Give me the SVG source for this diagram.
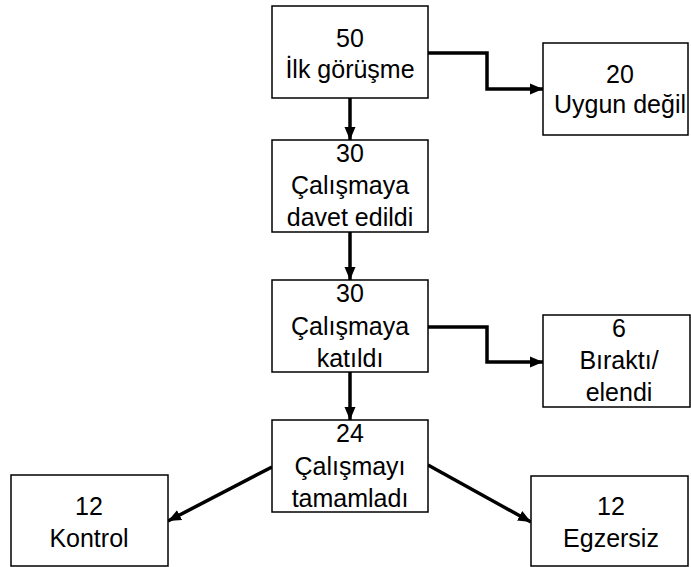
<svg xmlns="http://www.w3.org/2000/svg" width="691" height="567" viewBox="0 0 691 567">
<style>
.box{fill:#fff;stroke:#000;stroke-width:1.5}
.t{font-family:"Liberation Sans",Arial,sans-serif;font-size:25px;fill:#000;text-anchor:middle}
.c{fill:none;stroke:#000;stroke-width:3.5;stroke-linejoin:miter}
</style>
<defs>
<marker id="ah" markerUnits="userSpaceOnUse" markerWidth="14" markerHeight="14" viewBox="0 0 14 14" refX="13" refY="7" orient="auto">
<path d="M0,1.5 L13,7 L0,12.5 Z" fill="#000"/>
</marker>
</defs>
<rect width="691" height="567" fill="#fff"/>
<g id="connectors">
<path class="c" d="M350,98 V140" marker-end="url(#ah)"/>
<path class="c" d="M350,232 V280" marker-end="url(#ah)"/>
<path class="c" d="M350,372 V420" marker-end="url(#ah)"/>
<path class="c" d="M428,53 H487 V89 H543" marker-end="url(#ah)"/>
<path class="c" d="M428,327 H487 V362 H543" marker-end="url(#ah)"/>
<path class="c" d="M272,467 L168,521" marker-end="url(#ah)"/>
<path class="c" d="M428,465 L531,522" marker-end="url(#ah)"/>
</g>
<g id="n1">
<rect class="box" x="272" y="6" width="156" height="92"/>
<text class="t" x="350" y="47">50</text>
<text class="t" x="350" y="78">İlk görüşme</text>
</g>
<g id="n2">
<rect class="box" x="272" y="140" width="156" height="92"/>
<text class="t" x="350" y="162">30</text>
<text class="t" x="350" y="194">Çalışmaya</text>
<text class="t" x="350" y="226">davet edildi</text>
</g>
<g id="n3">
<rect class="box" x="272" y="280" width="156" height="92"/>
<text class="t" x="350" y="302">30</text>
<text class="t" x="350" y="335">Çalışmaya</text>
<text class="t" x="350" y="367">katıldı</text>
</g>
<g id="n4">
<rect class="box" x="272" y="420" width="156" height="92"/>
<text class="t" x="350" y="442">24</text>
<text class="t" x="350" y="475">Çalışmayı</text>
<text class="t" x="350" y="507">tamamladı</text>
</g>
<g id="n5">
<rect class="box" x="543" y="43" width="145" height="92"/>
<text class="t" x="620" y="83">20</text>
<text class="t" x="620" y="113">Uygun değil</text>
</g>
<g id="n6">
<rect class="box" x="543" y="315" width="147" height="92"/>
<text class="t" x="619" y="337">6</text>
<text class="t" x="619" y="369">Bıraktı/</text>
<text class="t" x="619" y="401">elendi</text>
</g>
<g id="n7">
<rect class="box" x="11" y="475" width="157" height="91"/>
<text class="t" x="89" y="515">12</text>
<text class="t" x="89" y="547">Kontrol</text>
</g>
<g id="n8">
<rect class="box" x="531" y="476" width="157" height="90"/>
<text class="t" x="611" y="515">12</text>
<text class="t" x="611" y="547">Egzersiz</text>
</g>
</svg>
